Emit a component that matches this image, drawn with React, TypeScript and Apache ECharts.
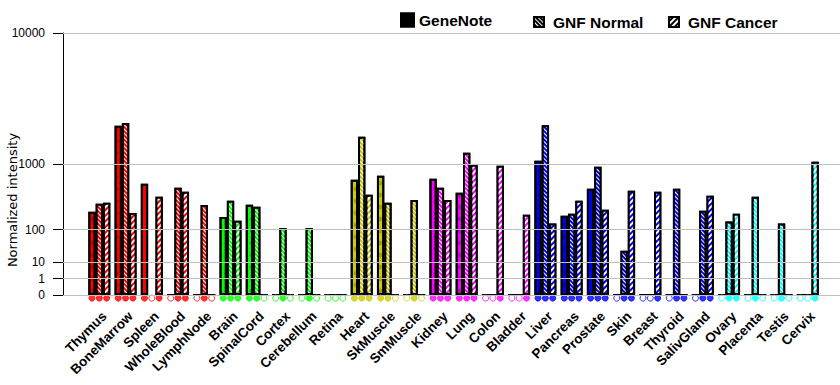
import React, { useEffect, useRef } from "react";
import * as echarts from "echarts";

const categories = [
  "Thymus", "BoneMarrow", "Spleen", "WholeBlood", "LymphNode", "Brain", "SpinalCord",
  "Cortex", "Cerebellum", "Retina", "Heart", "SkMuscle", "SmMuscle", "Kidney", "Lung",
  "Colon", "Bladder", "Liver", "Pancreas", "Prostate", "Skin", "Breast", "Thyroid",
  "SalivGland", "Ovary", "Placenta", "Testis", "Cervix",
];

const tissueColors = [
  "#ff0000", "#ff0000", "#ff0000", "#ff0000", "#ff0000",
  "#00ff00", "#00ff00", "#00ff00", "#00ff00", "#00ff00",
  "#cccc00", "#cccc00", "#cccc00",
  "#ff00ff", "#ff00ff", "#ff00ff", "#ff00ff",
  "#0000ff", "#0000ff", "#0000ff", "#0000ff", "#0000ff", "#0000ff", "#0000ff",
  "#00ffff", "#00ffff", "#00ffff", "#00ffff",
];

const geneNote = [187, 1960, 500, 0, 0, 155, 239, 0, 0, 0, 576, 663, 0, 597, 365, 0, 0, 1060, 162, 420, 0, 0, 0, 0, 0, 0, 0, 0];
const gnfNormal = [248, 2055, null, 435, 237, 275, 223, 105, 105, 0, 1616, 257, 282, 435, 1220, 0, 0, 1974, 174, 909, 22.5, 0, 420, 194, 132, 317, 123, 0];
const gnfCancer = [257, 179, 317, 378, 0, 136, 0, 0, 0, 0, 340, 0, 0, 282, 976, 942, 168, 123, 275, 201, 391, 378, 0, 328, 174, 0, 0, 1041];

// presence calls: GeneNote, GNF Normal, GNF Cancer
const calls = [
  "111", "111", "101", "011", "010", "111", "110", "010", "010", "000", "111", "110", "010", "111",
  "111", "001", "001", "111", "111", "111", "011", "001", "011", "011", "011", "010", "010", "001",
];

const yTickValues = [0, 1, 10, 100, 1000, 10000];
const seriesNames = ["GeneNote", "GNF Normal", "GNF Cancer"];

function toUnit(v: number): number {
  if (v <= 1) return v;
  const l = Math.log10(v);
  if (v <= 10) return 1 + l;
  if (v <= 100) return 2 + 2 * (l - 1);
  if (v <= 1000) return 4 + 4 * (l - 2);
  return 8 + 8 * (l - 3);
}

const FONT = "Liberation Sans, Arial, sans-serif";
const BAR_W = 7.33;

export default function App() {
  const ref = useRef<HTMLDivElement>(null);
  useEffect(() => {
    const chart = echarts.init(ref.current!, undefined, { renderer: "svg" });
    const tickUnits = yTickValues.map(toUnit);
    const labelMap: Record<string, string> = {};
    yTickValues.forEach((v) => (labelMap[String(toUnit(v))] = String(v)));

    const decals = [
      undefined,
      { symbol: "rect", symbolSize: 1, color: "#ffffff", dashArrayX: [1, 0], dashArrayY: [1, 2], rotation: Math.PI / 4 },
      { symbol: "rect", symbolSize: 1, color: "#ffffff", dashArrayX: [1, 0], dashArrayY: [2, 2], rotation: -Math.PI / 4 },
    ];
    const dataSets = [geneNote, gnfNormal, gnfCancer];

    const barSeries = dataSets.map((arr, si) => ({
      name: seriesNames[si],
      type: "bar",
      xAxisIndex: 1,
      yAxisIndex: 1,
      barWidth: BAR_W,
      barGap: "0%",
      itemStyle: {
        color: "#000",
        borderColor: "#000",
        borderWidth: 2,
        decal: decals[si] ?? "none",
      },
      data: arr.map((v, i) =>
        v === null
          ? "-"
          : { value: toUnit(v as number), itemStyle: { color: tissueColors[i] } }
      ),
    }));

    const markerSeries = [0, 1, 2].map((si) => ({
      type: "scatter",
      xAxisIndex: 1,
      yAxisIndex: 1,
      clip: false,
      symbol: "circle",
      symbolSize: 6,
      symbolOffset: [(si - 1) * BAR_W, 0],
      silent: true,
      data: categories.map((c, i) => {
        const filled = calls[i][si] === "1";
        return {
          value: [i, -0.19],
          itemStyle: {
            color: filled ? tissueColors[i] : "#ffffff",
            borderColor: tissueColors[i],
            borderWidth: 1,
            decal: "none",
          },
        };
      }),
    }));

    const legendText = { fontFamily: FONT, fontSize: 15.5, fontWeight: "bold", color: "#000" };
    const legendBase = {
      top: 12,
      padding: 0,
      selectedMode: false,
      icon: "rect",
    };

    chart.setOption({
      animation: false,
      aria: { enabled: true, decal: { show: true } },
      legend: [
        { ...legendBase, left: 400, itemWidth: 13, itemHeight: 13, data: ["GeneNote"], textStyle: legendText },
        { ...legendBase, left: 533, top: 14, itemWidth: 10, itemHeight: 10, data: ["GNF Normal"], textStyle: { ...legendText, padding: [0, 0, 0, 4] } },
        { ...legendBase, left: 668, top: 14, itemWidth: 10, itemHeight: 10, data: ["GNF Cancer"], textStyle: { ...legendText, padding: [0, 0, 0, 4] } },
      ],
      grid: [
        { left: 63, right: 0, top: 33, bottom: 90 },
        { left: 86.2, right: 19.1, top: 33, bottom: 90 },
      ],
      xAxis: [
        { type: "value", gridIndex: 0, min: 0, max: 1, show: false },
        {
          type: "category",
          gridIndex: 1,
          data: categories,
          axisLine: { show: false },
          axisTick: { show: false },
          axisLabel: {
            interval: 0,
            rotate: 45,
            margin: 14,
            verticalAlign: "top",
            fontFamily: FONT,
            fontSize: 13.5,
            fontWeight: "bold",
            color: "#000",
          },
        },
      ],
      yAxis: [
        {
          type: "value",
          gridIndex: 0,
          min: 0,
          max: 16,
          axisLine: { show: true, lineStyle: { color: "#000", width: 1 } },
          axisTick: { show: true, length: 10, customValues: tickUnits, lineStyle: { color: "#000" } },
          axisLabel: {
            customValues: tickUnits,
            margin: 18,
            fontFamily: FONT,
            fontSize: 12,
            color: "#000",
            formatter: (v: number) => labelMap[String(v)] ?? "",
          },
          splitLine: { show: false },
        },
        { type: "value", gridIndex: 1, min: 0, max: 16, show: false },
      ],
      graphic: [
        {
          type: "text",
          x: 12,
          y: 200,
          rotation: Math.PI / 2,
          style: {
            text: "Normalized intensity",
            fontFamily: "DejaVu Sans, sans-serif",
            fontSize: 13,
            fill: "#000",
            textAlign: "center",
            textVerticalAlign: "middle",
          },
        },
      ],
      series: [
        {
          type: "line",
          xAxisIndex: 0,
          yAxisIndex: 0,
          data: [],
          silent: true,
          markLine: {
            silent: true,
            symbol: "none",
            label: { show: false },
            lineStyle: { color: "#c0c0c0", width: 1, type: "solid" },
            data: tickUnits.map((u) => ({ yAxis: u })),
          },
        },
        ...barSeries,
        ...markerSeries,
      ],
    });
    return () => chart.dispose();
  }, []);
  return <div ref={ref} style={{ width: 840, height: 385, position: "absolute", left: 0, top: 0 }} />;
}
